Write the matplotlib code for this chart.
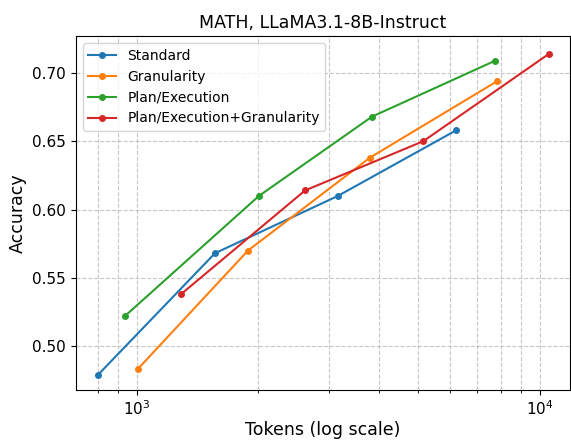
import matplotlib
matplotlib.use('Agg')
import matplotlib.pyplot as plt

# tokens / accuracy
std_tokens = [802, 1564, 3157, 6200]
std_acc = [0.479, 0.568, 0.610, 0.658]

gran_tokens = [1005, 1889, 3790, 7840]
gran_acc = [0.483, 0.570, 0.638, 0.694]

plan_tokens = [935, 2011, 3834, 7750]
plan_acc = [0.522, 0.610, 0.668, 0.709]

pg_tokens = [1288, 2617, 5137, 10535]
pg_acc = [0.538, 0.614, 0.650, 0.714]

fig = plt.figure(figsize=(5.71, 4.4), dpi=100)
ax = fig.add_axes([0.133, 0.114, 0.865, 0.804])

ax.plot(std_tokens, std_acc, marker='o', markersize=4, label='Standard')
ax.plot(gran_tokens, gran_acc, marker='o', markersize=4, label='Granularity')
ax.plot(plan_tokens, plan_acc, marker='o', markersize=4, label='Plan/Execution')
ax.plot(pg_tokens, pg_acc, marker='o', markersize=4, label='Plan/Execution+Granularity')

ax.set_xscale('log')
ax.set_xlim(707, 11870)
ax.set_ylim(0.468, 0.727)
ax.grid(True, which='both', linestyle='--', color='#b0b0b0', alpha=0.7)

ax.tick_params(labelsize=11)
ax.set_xlabel('Tokens (log scale)', fontsize=12.5, labelpad=2)
ax.set_ylabel('Accuracy', fontsize=12.5)
ax.set_title('MATH, LLaMA3.1-8B-Instruct', fontsize=12.5)
ax.legend(loc='upper left', fontsize=10)

fig.savefig('out.png')
